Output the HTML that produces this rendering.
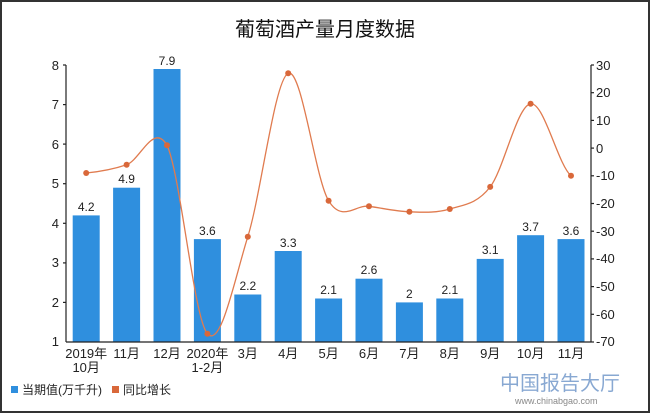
<!DOCTYPE html>
<html><head><meta charset="utf-8"><style>
body{margin:0;background:#fff}
svg{display:block;font-family:"Liberation Sans","Noto Sans CJK SC",sans-serif}
</style></head><body>
<svg width="650" height="413" viewBox="0 0 650 413">
<rect x="1" y="1" width="648" height="411" fill="#fff" stroke="#333" stroke-width="2"/>
<text x="325" y="36" font-size="20" text-anchor="middle" fill="#111">葡萄酒产量月度数据</text>
<g fill="#2f8fde">
<rect x="72.7" y="215.4" width="27" height="126.6"/>
<rect x="113.1" y="187.7" width="27" height="154.3"/>
<rect x="153.5" y="69" width="27" height="273"/>
<rect x="193.9" y="239.1" width="27" height="102.9"/>
<rect x="234.3" y="294.5" width="27" height="47.5"/>
<rect x="274.7" y="251" width="27" height="91"/>
<rect x="315.1" y="298.5" width="27" height="43.5"/>
<rect x="355.5" y="278.7" width="27" height="63.3"/>
<rect x="395.9" y="302.4" width="27" height="39.6"/>
<rect x="436.3" y="298.5" width="27" height="43.5"/>
<rect x="476.7" y="258.9" width="27" height="83.1"/>
<rect x="517.1" y="235.2" width="27" height="106.8"/>
<rect x="557.5" y="239.1" width="27" height="102.9"/>
</g>
<g font-size="12" text-anchor="middle" fill="#222">
<text x="86.2" y="211">4.2</text><text x="126.6" y="183">4.9</text><text x="167" y="65">7.9</text>
<text x="207.4" y="235">3.6</text><text x="247.8" y="290">2.2</text><text x="288.2" y="247">3.3</text>
<text x="328.6" y="294">2.1</text><text x="369" y="274">2.6</text><text x="409.4" y="298">2</text>
<text x="449.8" y="294">2.1</text><text x="490.2" y="254">3.1</text><text x="530.6" y="231">3.7</text>
<text x="571" y="235">3.6</text>
</g>
<path d="M86.2,173 C99.7,171.6 113.1,169.3 126.6,164.7 C140.1,160.1 153.5,122 167,145.3 C180.5,173.5 193.9,318.5 207.4,333.7 C220.9,348.9 234.3,280.1 247.8,236.7 C261.3,193.3 274.7,79.3 288.2,73.3 C301.7,67.3 315.1,178.5 328.6,200.7 C342.1,222.9 355.5,204.45 369,206.3 C382.5,208.15 395.9,211.35 409.4,211.8 C422.9,212.25 436.3,213.15 449.8,209 C463.3,204.85 476.7,204.4 490.2,186.9 C503.7,169.4 517.1,105.65 530.6,103.8 C544.1,101.95 557.5,163.8 571,175.8" fill="none" stroke="#e07b4f" stroke-width="1.3"/>
<g fill="#d9683a">
<circle cx="86.2" cy="173" r="3"/><circle cx="126.6" cy="164.7" r="3"/><circle cx="167" cy="145.3" r="3"/>
<circle cx="207.4" cy="333.7" r="3"/><circle cx="247.8" cy="236.7" r="3"/><circle cx="288.2" cy="73.3" r="3"/>
<circle cx="328.6" cy="200.7" r="3"/><circle cx="369" cy="206.3" r="3"/><circle cx="409.4" cy="211.8" r="3"/>
<circle cx="449.8" cy="209" r="3"/><circle cx="490.2" cy="186.9" r="3"/><circle cx="530.6" cy="103.8" r="3"/>
<circle cx="571" cy="175.8" r="3"/>
</g>
<g stroke="#222" stroke-width="1.2">
<line x1="66" y1="65" x2="66" y2="342"/>
<line x1="591" y1="65" x2="591" y2="342"/>
<line x1="66" y1="342" x2="591" y2="342"/>
<line x1="63" y1="65" x2="66" y2="65"/><line x1="63" y1="104.6" x2="66" y2="104.6"/><line x1="63" y1="144.1" x2="66" y2="144.1"/><line x1="63" y1="183.7" x2="66" y2="183.7"/><line x1="63" y1="223.3" x2="66" y2="223.3"/><line x1="63" y1="262.9" x2="66" y2="262.9"/><line x1="63" y1="302.4" x2="66" y2="302.4"/>
<line x1="591" y1="65" x2="594" y2="65"/><line x1="591" y1="92.7" x2="594" y2="92.7"/><line x1="591" y1="120.4" x2="594" y2="120.4"/><line x1="591" y1="148.1" x2="594" y2="148.1"/><line x1="591" y1="175.8" x2="594" y2="175.8"/><line x1="591" y1="203.5" x2="594" y2="203.5"/><line x1="591" y1="231.2" x2="594" y2="231.2"/><line x1="591" y1="258.9" x2="594" y2="258.9"/><line x1="591" y1="286.6" x2="594" y2="286.6"/><line x1="591" y1="314.3" x2="594" y2="314.3"/><line x1="591" y1="342" x2="594" y2="342"/>
</g>
<g font-size="13" fill="#222" text-anchor="end">
<text x="59" y="70">8</text><text x="59" y="109">7</text><text x="59" y="149">6</text><text x="59" y="188">5</text><text x="59" y="228">4</text><text x="59" y="267">3</text><text x="59" y="307">2</text><text x="59" y="346">1</text>
</g>
<g font-size="13" fill="#222">
<text x="596" y="70">30</text><text x="596" y="97">20</text><text x="596" y="125">10</text><text x="596" y="153">0</text><text x="596" y="180">-10</text><text x="596" y="208">-20</text><text x="596" y="236">-30</text><text x="596" y="263">-40</text><text x="596" y="291">-50</text><text x="596" y="319">-60</text><text x="596" y="346">-70</text>
</g>
<g font-size="13" fill="#222" text-anchor="middle">
<text x="86.2" y="358">2019年</text><text x="86.2" y="372">10月</text>
<text x="126.6" y="358">11月</text><text x="167" y="358">12月</text>
<text x="207.4" y="358">2020年</text><text x="207.4" y="372">1-2月</text>
<text x="247.8" y="358">3月</text><text x="288.2" y="358">4月</text><text x="328.6" y="358">5月</text><text x="369" y="358">6月</text><text x="409.4" y="358">7月</text><text x="449.8" y="358">8月</text><text x="490.2" y="358">9月</text><text x="530.6" y="358">10月</text><text x="571" y="358">11月</text>
</g>
<rect x="11" y="386" width="7" height="7" fill="#2f8fde"/>
<text x="22" y="394" font-size="12" fill="#222">当期值(万千升)</text>
<rect x="112" y="386" width="7" height="7" fill="#d9683a"/>
<text x="123" y="394" font-size="12" fill="#222">同比增长</text>
<text x="500" y="390" font-size="20" fill="#3a6fb5" opacity="0.6">中国报告大厅</text>
<text x="515" y="404" font-size="9" fill="#555" opacity="0.7">www.chinabgao.com</text>
</svg>
</body></html>
